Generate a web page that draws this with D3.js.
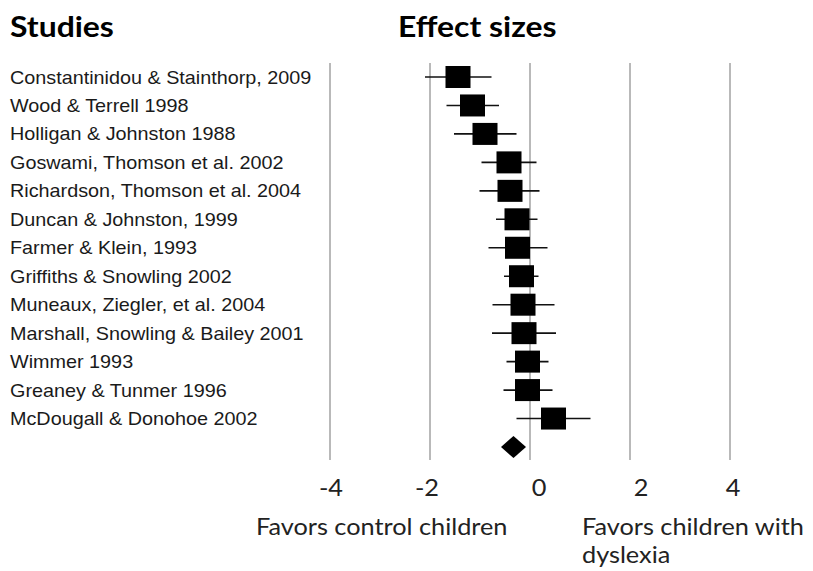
<!DOCTYPE html>
<html>
<head>
<meta charset="utf-8">
<script src="https://cdn.jsdelivr.net/npm/d3@7"></script>
<style>
  body { margin: 0; background: #fff; }
  svg { display: block; }
</style>
</head>
<body>
<svg id="forest"></svg>
<script>
"use strict";

/* studies, effect sizes and confidence limits, top to bottom */
const studies = [
  "Constantinidou & Stainthorp, 2009",
  "Wood & Terrell 1998",
  "Holligan & Johnston 1988",
  "Goswami, Thomson et al. 2002",
  "Richardson, Thomson et al. 2004",
  "Duncan & Johnston, 1999",
  "Farmer & Klein, 1993",
  "Griffiths & Snowling 2002",
  "Muneaux, Ziegler, et al. 2004",
  "Marshall, Snowling & Bailey 2001",
  "Wimmer 1993",
  "Greaney & Tunmer 1996",
  "McDougall & Donohoe 2002"
];
const effects = [-1.44, -1.15, -0.90, -0.42, -0.40, -0.26, -0.25, -0.17, -0.14, -0.12, -0.05, -0.05, 0.47];
const lower   = [-2.10, -1.67, -1.52, -0.97, -1.01, -0.68, -0.83, -0.52, -0.75, -0.76, -0.47, -0.53, -0.27];
const upper   = [-0.77, -0.62, -0.27,  0.13,  0.19,  0.15,  0.35,  0.17,  0.49,  0.52,  0.37,  0.45,  1.21];
const pooledEffect = -0.33;
const ticks = [-4, -2, 0, 2, 4];

const width = 813, height = 571;
const svg = d3.select('svg#forest')
  .attr('width', `${width}px`)
  .attr('height', `${height}px`);

let x = d3.scaleLinear().domain([-4, 4]).range([330, 730]);
let rows = studies.concat(['pooled']);
let y = d3.scalePoint().domain(rows).range([77, 447]);

let plotTop = 63, plotBottom = 460;
let boxW = 25, boxH = 22;
let stretch = 1.1;   // the original picture is a bit wider than tall

/* place a text with the horizontal stretch of the original */
function place(sel, px, py, anchor) {
  return sel.attr('transform', `translate(${px},${py}) scale(${stretch},1)`)
            .attr('text-anchor', anchor || 'start');
}

/* headers */
place(svg.append('text'), 10, 37)
   .style('font-family', 'Lato, sans-serif')
   .style('font-weight', 'bold')
   .style('font-size', '29px')
   .text('Studies');
place(svg.append('text'), 398, 37)
   .style('font-family', 'Lato, sans-serif')
   .style('font-weight', 'bold')
   .style('font-size', '29px')
   .text('Effect sizes');

/* vertical grid lines */
svg.selectAll('line.grid')
   .data(ticks)
   .enter()
   .append('line')
   .attr('class', 'grid')
   .attr('x1', d => x(d)).attr('x2', d => x(d))
   .attr('y1', plotTop).attr('y2', plotBottom)
   .attr('stroke', '#8a8a8a')
   .attr('stroke-width', 1.2);

/* tick labels, nudged like the original */
let tickNudge = { '-4': 1, '-2': -3, '0': 9, '2': 11, '4': 3 };
svg.selectAll('text.tick')
   .data(ticks)
   .enter()
   .append('text')
   .attr('class', 'tick')
   .each(function(d) { place(d3.select(this), x(d) + tickNudge[d], 496, 'middle'); })
   .style('font-family', 'Lato, sans-serif')
   .style('font-size', '23px')
   .style('fill', '#222')
   .text(d => d);

/* study labels */
svg.selectAll('text.study')
   .data(studies)
   .enter()
   .append('text')
   .attr('class', 'study')
   .each(function(d) { place(d3.select(this), 10, y(d) + 6.5); })
   .style('font-family', '"Liberation Sans", Arial, sans-serif')
   .style('font-size', '18px')
   .style('fill', '#1a1a1a')
   .text(d => d);

/* confidence intervals */
svg.selectAll('line.ci')
   .data(studies)
   .enter()
   .append('line')
   .attr('class', 'ci')
   .attr('x1', (d, i) => x(lower[i])).attr('x2', (d, i) => x(upper[i]))
   .attr('y1', d => y(d)).attr('y2', d => y(d))
   .attr('stroke', '#111')
   .attr('stroke-width', 1.6);

/* effect boxes */
svg.selectAll('rect.effect')
   .data(studies)
   .enter()
   .append('rect')
   .attr('class', 'effect')
   .attr('x', (d, i) => x(effects[i]) - boxW / 2)
   .attr('y', d => y(d) - boxH / 2)
   .attr('width', boxW)
   .attr('height', boxH)
   .attr('fill', '#000');

/* pooled estimate diamond */
let cx = x(pooledEffect), cy = y('pooled');
svg.append('path')
   .attr('d', `M${cx - 12.5},${cy} L${cx},${cy - 11} L${cx + 12.5},${cy} L${cx},${cy + 11} Z`)
   .attr('fill', '#000');

/* direction labels */
let dirStyle = sel => sel
  .style('font-family', 'Lato, sans-serif')
  .style('font-size', '23px')
  .style('fill', '#222');
place(svg.append('text'), 256, 535).call(dirStyle).text('Favors control children');
place(svg.append('text'), 582, 535).call(dirStyle).text('Favors children with');
place(svg.append('text'), 582, 563).call(dirStyle).text('dyslexia');
</script>
</body>
</html>
